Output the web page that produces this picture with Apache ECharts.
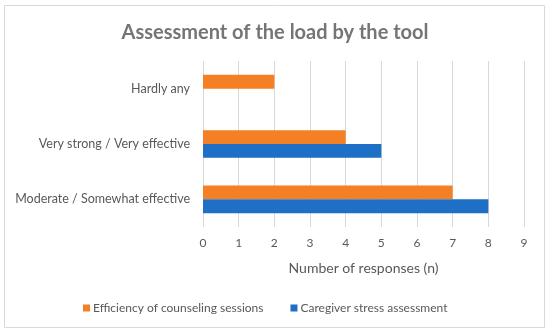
<!DOCTYPE html>
<html>
<head>
<meta charset="utf-8">
<script src="https://cdn.jsdelivr.net/npm/echarts@6/dist/echarts.min.js"></script>
<style>
html,body{margin:0;padding:0;background:#fff;}
#c{width:550px;height:334px;}
</style>
</head>
<body>
<div id="c"></div>
<script>
const categories = ["Moderate / Somewhat effective", "Very strong / Very effective", "Hardly any"];
const efficiency = [7, 4, 2];
const caregiver = [8, 5, 0];
const seriesNames = ["Efficiency of counseling sessions", "Caregiver stress assessment"];
const xTicks = [0, 1, 2, 3, 4, 5, 6, 7, 8, 9];

const font = "Lato, 'Open Sans', sans-serif";
const chart = echarts.init(document.getElementById('c'), null, {renderer: 'canvas'});
chart.setOption({
  animation: false,
  backgroundColor: '#fff',
  textStyle: {fontFamily: font},
  graphic: [{
    type: 'rect',
    shape: {x: 4.5, y: 5.5, width: 540, height: 322},
    style: {fill: 'none', stroke: '#d9d9d9', lineWidth: 1},
    silent: true
  }],
  title: {
    text: 'Assessment of the load by the tool',
    left: 'center',
    top: 18,
    textStyle: {fontFamily: font, fontSize: 20, fontWeight: 'bold', color: '#757575'}
  },
  legend: {
    data: seriesNames,
    bottom: 15,
    left: 78,
    itemWidth: 7,
    itemHeight: 7,
    itemGap: 27,
    icon: 'rect',
    textStyle: {fontFamily: font, fontSize: 12, color: '#595959', padding: [0, 0, 0, -2]}
  },
  grid: {left: 203, right: 26, top: 61, bottom: 107, containLabel: false},
  xAxis: {
    type: 'value',
    min: xTicks[0],
    max: xTicks[xTicks.length - 1],
    interval: 1,
    name: 'Number of responses (n)',
    nameLocation: 'middle',
    nameGap: 34,
    nameTextStyle: {fontFamily: font, fontSize: 14, color: '#595959'},
    axisLine: {show: false},
    axisTick: {show: false},
    axisLabel: {fontFamily: font, fontSize: 12, color: '#595959', margin: 10},
    splitLine: {show: true, lineStyle: {color: '#d9d9d9', width: 1}}
  },
  yAxis: {
    type: 'category',
    data: categories,
    axisLine: {show: false},
    axisTick: {show: false},
    axisLabel: {fontFamily: font, fontSize: 12.5, color: '#595959', margin: 13},
    splitLine: {show: false}
  },
  series: [
    {name: seriesNames[0], type: 'bar', data: efficiency, itemStyle: {color: '#F47F24'}, barGap: '0%', barCategoryGap: '50%'},
    {name: seriesNames[1], type: 'bar', data: caregiver, itemStyle: {color: '#1E6FC6'}, barGap: '0%', barCategoryGap: '50%'}
  ]
});
</script>
</body>
</html>
